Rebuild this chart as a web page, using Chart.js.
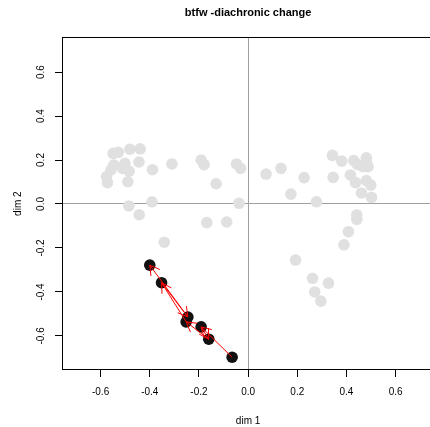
<!DOCTYPE html>
<html>
<head>
<meta charset="utf-8">
<script src="https://cdn.jsdelivr.net/npm/chart.js@4.4.1/dist/chart.umd.min.js"></script>
<style>
  html, body { margin: 0; padding: 0; background: #fff; overflow: hidden; }
  canvas { display: block; }
</style>
</head>
<body>
<canvas id="chart" width="440" height="427"></canvas>
<script>
// grey: all the other items in the space
const greyX = [-0.549, -0.528, -0.481, -0.439, -0.546, -0.501, -0.444, -0.558, -0.511, -0.484,
  -0.576, -0.572, -0.489, -0.389, -0.310, -0.191, -0.179, -0.130, -0.047, -0.031,
  -0.485, -0.391, -0.037, 0.073, 0.134, 0.174, 0.228, 0.278, 0.343, 0.381,
  0.346, 0.416, 0.430, 0.445, 0.481, 0.481, 0.467, 0.488, 0.437, 0.481,
  0.499, 0.461, 0.502, -0.443, -0.168, -0.087, -0.341, 0.442, 0.442, 0.408,
  0.390, 0.193, 0.262, 0.327, 0.271, 0.296]
const greyY = [0.230, 0.235, 0.249, 0.251, 0.177, 0.185, 0.191, 0.155, 0.162, 0.149,
  0.124, 0.097, 0.101, 0.156, 0.182, 0.200, 0.179, 0.092, 0.182, 0.162,
  -0.009, 0.010, 0.003, 0.136, 0.162, 0.045, 0.120, 0.010, 0.221, 0.195,
  0.121, 0.132, 0.197, 0.180, 0.210, 0.192, 0.170, 0.170, 0.097, 0.106,
  0.086, 0.050, 0.030, -0.049, -0.085, -0.082, -0.174, -0.050, -0.070, -0.126,
  -0.186, -0.255, -0.338, -0.360, -0.400, -0.442]

// btfw through time, oldest first (arrows join them in this order)
const btfwX = [-0.065, -0.191, -0.160, -0.252, -0.352, -0.245, -0.400]
const btfwY = [-0.697, -0.559, -0.615, -0.536, -0.358, -0.514, -0.278]

const xTicks = [-0.6, -0.4, -0.2, 0, 0.2, 0.4, 0.6]
const yTicks = [-0.6, -0.4, -0.2, 0, 0.2, 0.4, 0.6]

Chart.defaults.font.family = "'Liberation Sans', Arial, sans-serif"
Chart.defaults.font.size = 10
Chart.defaults.color = "#000"

const toPoints = (xs, ys) => xs.map((x, i) => ({ x: x, y: ys[i] }))

// zero lines in grey, everything else only as a tick mark
const zeroLine = (c) => (c.tick && c.tick.value === 0 ? "#a0a0a0" : "rgba(0,0,0,0)")

// red arrows between successive btfw points
const arrowPlugin = {
  id: "arrows",
  afterDatasetsDraw(chart) {
    const pts = chart.getDatasetMeta(1).data
    const ctx = chart.ctx
    const len = 11
    ctx.save()
    ctx.strokeStyle = "#ff0000"
    ctx.lineWidth = 1
    for (let i = 1; i < pts.length; i++) {
      const a = pts[i - 1]
      const b = pts[i]
      const ang = Math.atan2(b.y - a.y, b.x - a.x)
      ctx.beginPath()
      ctx.moveTo(a.x, a.y)
      ctx.lineTo(b.x, b.y)
      ctx.moveTo(b.x - len * Math.cos(ang - Math.PI / 6), b.y - len * Math.sin(ang - Math.PI / 6))
      ctx.lineTo(b.x, b.y)
      ctx.lineTo(b.x - len * Math.cos(ang + Math.PI / 6), b.y - len * Math.sin(ang + Math.PI / 6))
      ctx.stroke()
    }
    ctx.restore()
  }
}

// plot box
const boxPlugin = {
  id: "box",
  afterDraw(chart) {
    const { left, top, right, bottom } = chart.chartArea
    const ctx = chart.ctx
    ctx.save()
    ctx.strokeStyle = "#000"
    ctx.lineWidth = 1
    const l = Math.round(left) + 0.5
    const t = Math.round(top) + 0.5
    ctx.strokeRect(l, t, Math.round(right) - l + 0.5, Math.round(bottom) - t - 0.5)
    ctx.restore()
  }
}

new Chart(document.getElementById("chart"), {
  type: "scatter",
  data: {
    datasets: [
      {
        data: toPoints(greyX, greyY),
        backgroundColor: "#e0e0e0",
        borderWidth: 0,
        pointRadius: 5.8
      },
      {
        data: toPoints(btfwX, btfwY),
        backgroundColor: "#111111",
        borderWidth: 0,
        pointRadius: 5.8
      }
    ]
  },
  options: {
    responsive: false,
    animation: false,
    devicePixelRatio: 1,
    layout: { padding: { left: 0, right: 5.6, top: 0, bottom: 0 } },
    plugins: {
      legend: { display: false },
      tooltip: { enabled: false },
      title: {
        display: true,
        text: "btfw -diachronic change",
        fullSize: false,
        color: "#000",
        font: { size: 11, weight: "bold" },
        padding: { top: 6, bottom: 18.1 }
      }
    },
    scales: {
      x: {
        type: "linear",
        min: -0.757,
        max: 0.757,
        afterBuildTicks: (s) => { s.ticks = xTicks.map(v => ({ value: v })) },
        afterFit: (s) => { s.height = 57 },
        border: { display: false },
        grid: { drawOnChartArea: true, color: zeroLine, tickColor: "#000", tickLength: 7 },
        ticks: {
          padding: 9,
          maxRotation: 0,
          autoSkip: false,
          callback: (v) => v.toFixed(1)
        },
        title: { display: true, text: "dim 1", padding: { top: 0, bottom: 0 } }
      },
      y: {
        type: "linear",
        min: -0.755,
        max: 0.758,
        afterBuildTicks: (s) => { s.ticks = yTicks.map(v => ({ value: v })) },
        afterFit: (s) => { s.width = 62 },
        border: { display: false },
        grid: { drawOnChartArea: true, color: zeroLine, tickColor: "#000", tickLength: 7 },
        ticks: {
          padding: 5,
          minRotation: 90,
          maxRotation: 90,
          crossAlign: "center",
          autoSkip: false,
          callback: (v) => v.toFixed(1)
        },
        title: { display: true, text: "dim 2", padding: { top: 12, bottom: 0 } }
      }
    }
  },
  plugins: [arrowPlugin, boxPlugin]
})
</script>
</body>
</html>
